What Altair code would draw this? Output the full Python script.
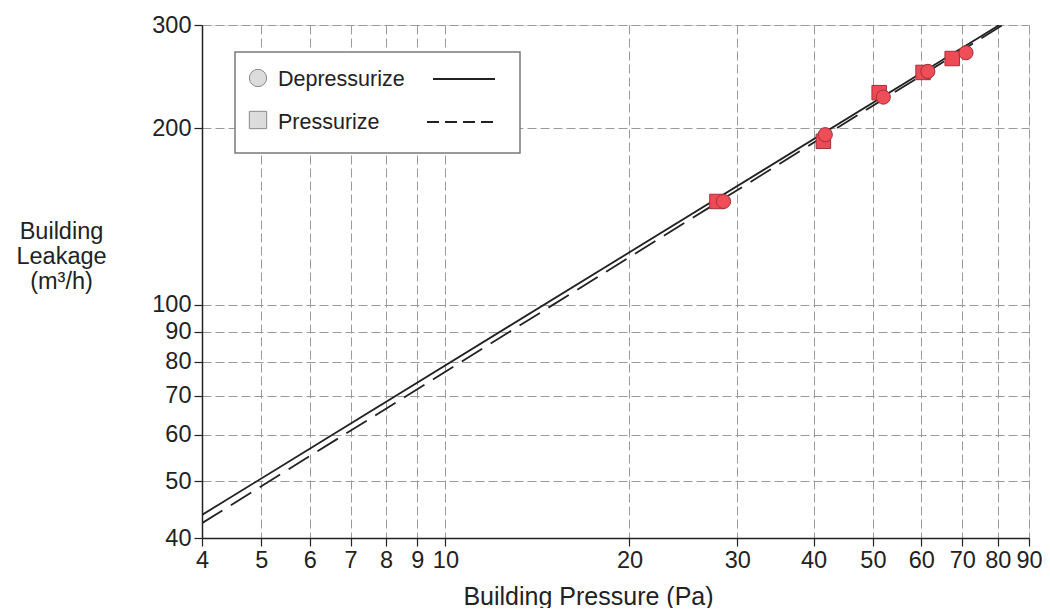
import altair as alt
import pandas as pd

dep_pressure = [28.5, 41.8, 52.0, 61.5, 71.0]
dep_flow = [150, 195, 226, 250, 269]
pre_pressure = [27.8, 41.5, 51.2, 60.4, 67.4]
pre_flow = [150, 190, 230, 249, 263]

# Fitted power-law lines (end points)
fit_dep_pressure = [4, 80.5]
fit_dep_flow = [43.8, 300]
fit_pre_pressure = [4, 81.5]
fit_pre_flow = [42.4, 300]

x_ticks = [4, 5, 6, 7, 8, 9, 10, 20, 30, 40, 50, 60, 70, 80, 90]
y_ticks = [40, 50, 60, 70, 80, 90, 100, 200, 300]

legend_labels = ["Depressurize", "Pressurize"]

FONT = "Liberation Sans"
INK = "#222222"
W, H = 827, 513
LEFT = 194

dep = pd.DataFrame({"p": dep_pressure, "q": dep_flow})
pre = pd.DataFrame({"p": pre_pressure, "q": pre_flow})
fdep = pd.DataFrame({"p": fit_dep_pressure, "q": fit_dep_flow})
fpre = pd.DataFrame({"p": fit_pre_pressure, "q": fit_pre_flow})

xscale = alt.Scale(type="log", domain=[4, 90], nice=False)
yscale = alt.Scale(type="log", domain=[40, 300], nice=False)

xaxis = alt.Axis(
    values=x_ticks, format="d", title="Building Pressure (Pa)",
    labelFont=FONT, labelFontSize=23.5, labelColor=INK, labelFlush=False,
    labelOverlap=False, labelPadding=2,
    tickSize=8, tickColor=INK, tickWidth=1.2,
    domainColor=INK, domainWidth=1.5,
    grid=True, gridDash=[9, 4], gridColor="#9a9a9a", gridWidth=1,
    titleFont=FONT, titleFontSize=25, titleFontWeight="normal", titleColor=INK,
    titleX=386, titleY=66, titleAlign="center", titleBaseline="alphabetic",
)
yaxis = alt.Axis(
    values=y_ticks, format="d", title=["Building", "Leakage", "(m³/h)"],
    labelFont=FONT, labelFontSize=23.5, labelColor=INK, labelFlush=False,
    labelOverlap=False, labelPadding=3,
    tickSize=8, tickColor=INK, tickWidth=1.2,
    domainColor=INK, domainWidth=1.5,
    grid=True, gridDash=[9, 4], gridColor="#9a9a9a", gridWidth=1,
    titleFont=FONT, titleFontSize=23.5, titleFontWeight="normal", titleColor=INK,
    titleAngle=0, titleX=-141, titleY=213, titleAlign="center",
    titleBaseline="alphabetic", titleLineHeight=25,
)

base_x = alt.X("p:Q", scale=xscale, axis=xaxis)
base_y = alt.Y("q:Q", scale=yscale, axis=yaxis)

line_dep = alt.Chart(fdep).mark_line(color=INK, strokeWidth=1.8, clip=True).encode(
    x=base_x, y=base_y)
line_pre = alt.Chart(fpre).mark_line(color=INK, strokeWidth=1.8, strokeDash=[24, 10], clip=True).encode(
    x=alt.X("p:Q", scale=xscale), y=alt.Y("q:Q", scale=yscale))

pts_pre = alt.Chart(pre).mark_point(shape="square", filled=True, size=210, fill="#ee4a55",
                                    stroke="#a0303a", strokeWidth=1, opacity=1).encode(
    x=alt.X("p:Q", scale=xscale), y=alt.Y("q:Q", scale=yscale))
pts_dep = alt.Chart(dep).mark_point(shape="circle", filled=True, size=200, fill="#ef4d57",
                                    stroke="#a0303a", strokeWidth=1, opacity=1).encode(
    x=alt.X("p:Q", scale=xscale), y=alt.Y("q:Q", scale=yscale))

# Manual legend
one = pd.DataFrame({"k": [0]})
leg_box = alt.Chart(one).mark_rect(fill="white", stroke="#7a7a7a", strokeWidth=1.5).encode(
    x=alt.value(33), x2=alt.value(318), y=alt.value(27), y2=alt.value(128))
leg_circle = alt.Chart(one).mark_point(shape="circle", filled=True, size=300, fill="#dcdcdc",
                                       stroke="#8a8a8a", strokeWidth=1, opacity=1).encode(
    x=alt.value(56), y=alt.value(53))
leg_square = alt.Chart(one).mark_point(shape="square", filled=True, size=300, fill="#dcdcdc",
                                       stroke="#8a8a8a", strokeWidth=1, opacity=1).encode(
    x=alt.value(56), y=alt.value(95))
leg_text = alt.Chart(pd.DataFrame({"t": legend_labels, "yy": [61, 104]})).mark_text(
    font=FONT, fontSize=21.5, color=INK, align="left", baseline="alphabetic").encode(
    x=alt.value(76), y=alt.Y("yy:Q", scale=None), text="t:N")
leg_solid = alt.Chart(one).mark_rule(color=INK, strokeWidth=1.8).encode(
    x=alt.value(231), x2=alt.value(293), y=alt.value(54))
leg_dash = alt.Chart(one).mark_rule(color=INK, strokeWidth=1.8, strokeDash=[12, 6]).encode(
    x=alt.value(225), x2=alt.value(293), y=alt.value(97))

chart = alt.layer(
    line_dep, line_pre, pts_pre, pts_dep,
    leg_box, leg_circle, leg_square, leg_text, leg_solid, leg_dash,
).properties(
    width=W, height=H,
    autosize=alt.AutoSizeParams(type="none"),
    padding={"left": LEFT, "top": 17, "right": 13, "bottom": 70},
).configure_view(
    stroke=INK, strokeWidth=1.5,
).configure(background="white")

chart.save("out.html", embed_options={"renderer": "svg", "actions": False})
